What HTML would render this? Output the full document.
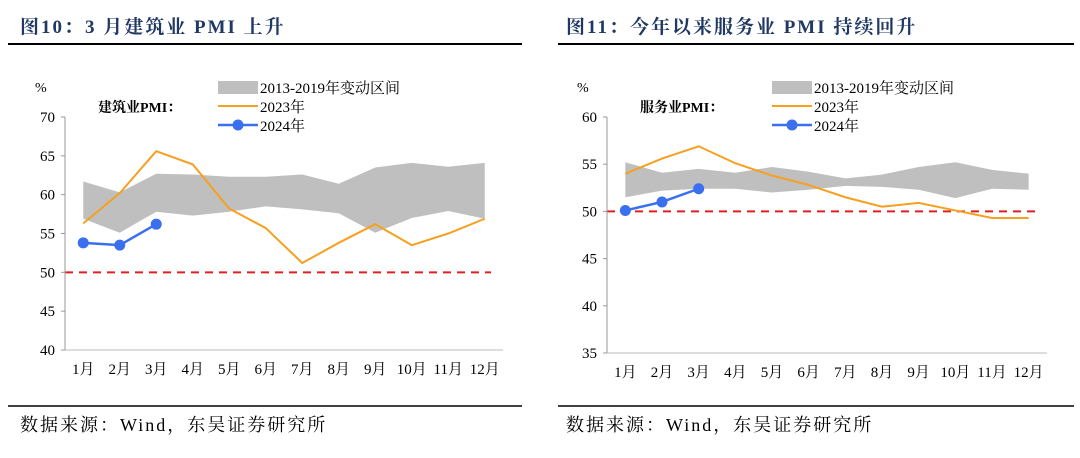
<!DOCTYPE html>
<html><head><meta charset="utf-8">
<style>
body{margin:0;background:#fff;width:1080px;height:458px;overflow:hidden;font-family:"Liberation Serif","Noto Serif CJK SC",serif;}
svg{position:absolute;left:0;top:0}
</style></head>
<body>
<svg id="c" width="1080" height="458">
<text x="20" y="33" font-size="19" font-weight="bold" fill="#203864" letter-spacing="2">图10：3 月建筑业 PMI 上升</text>
<line x1="8" y1="44" x2="522" y2="44" stroke="#000" stroke-width="2"/>
<text x="566" y="33" font-size="19" font-weight="bold" fill="#203864" letter-spacing="2">图11：今年以来服务业 PMI 持续回升</text>
<line x1="558" y1="44" x2="1074" y2="44" stroke="#000" stroke-width="2"/>
<line x1="8" y1="406" x2="522" y2="406" stroke="#000" stroke-width="1.5"/>
<line x1="558" y1="406" x2="1074" y2="406" stroke="#000" stroke-width="1.5"/>
<text x="20" y="431" font-size="18" fill="#000" letter-spacing="2">数据来源：Wind，东吴证券研究所</text>
<text x="566" y="431" font-size="18" fill="#000" letter-spacing="2">数据来源：Wind，东吴证券研究所</text>
</svg>
<script>
const months=["1月","2月","3月","4月","5月","6月","7月","8月","9月","10月","11月","12月"];
const conTicks=[40,45,50,55,60,65,70];
const conBandHigh=[61.7,60.3,62.7,62.6,62.3,62.3,62.6,61.4,63.5,64.1,63.6,64.1];
const conBandLow=[56.9,55.1,57.8,57.3,57.8,58.5,58.1,57.6,55.1,57.0,57.9,56.9];
const con2023=[56.3,60.2,65.6,63.9,58.2,55.7,51.2,53.8,56.2,53.5,55.0,56.9];
const con2024=[53.8,53.5,56.2];
const srvTicks=[35,40,45,50,55,60];
const srvBandHigh=[55.2,54.1,54.5,54.1,54.7,54.2,53.5,53.9,54.7,55.2,54.4,54.0];
const srvBandLow=[51.5,52.2,52.4,52.4,52.0,52.3,52.7,52.6,52.3,51.4,52.4,52.3];
const srv2023=[54.0,55.6,56.9,55.1,53.8,52.8,51.5,50.5,50.9,50.1,49.3,49.3];
const srv2024=[50.1,51.0,52.4];
const NS="http://www.w3.org/2000/svg";
const svg=document.getElementById('c');
function mk(tag,attrs,parent,txt){const e=document.createElementNS(NS,tag);for(const k in attrs)e.setAttribute(k,attrs[k]);if(txt!==undefined)e.textContent=txt;(parent||svg).appendChild(e);return e;}
function chart(o){
  const g=mk('g',{});
  
  
  const tmin=o.ticks[0],tmax=o.ticks[o.ticks.length-1];
  const y=v=>o.y1+(tmax-v)/(tmax-tmin)*(o.y0-o.y1);
  const step=(o.x1-o.x0)/12;
  const x=i=>o.x0+step*(i+0.5);
  let pts=o.hi.map((v,i)=>x(i)+','+y(v)).concat(o.lo.map((v,i)=>x(i)+','+y(v)).reverse());
  const band=mk('polygon',{points:pts.join(' '),fill:'#bfbfbf'},g);
  
  
  const rl=mk('line',{x1:o.x0,x2:o.x1-12,y1:y(50),y2:y(50),stroke:'#e02020','stroke-width':2,'stroke-dasharray':'8,6'},g);
  
  
  const ax=mk('line',{x1:o.x0,x2:o.x0,y1:o.y1,y2:o.y0,stroke:'#999','stroke-width':1},g);
  
  
  const bx=mk('line',{x1:o.x0,x2:o.x1,y1:o.y0,y2:o.y0,stroke:'#bbb','stroke-width':1},g);
  
  
  o.ticks.forEach(t=>{
    const tk=mk('line',{x1:o.x0-4,x2:o.x0,y1:y(t),y2:y(t),stroke:'#999'},g);
    
    
    const tl=mk('text',{x:o.x0-10,y:y(t)+5,'font-size':15,'text-anchor':'end'},g,t);
    
    
  });
  months.forEach((m,i)=>{
    const tl=mk('text',{x:x(i),y:o.y0+24,'font-size':15,'text-anchor':'middle'},g,m);
    
    
  });
  const un=mk('text',{x:o.x0-30,y:o.y1-25,'font-size':14},g,'%');
  
  
  const l23=mk('polyline',{points:o.s23.map((v,i)=>x(i)+','+y(v)).join(' '),fill:'none',stroke:'#f5a020','stroke-width':2},g);
  
  
  const l24=mk('polyline',{points:o.s24.map((v,i)=>x(i)+','+y(v)).join(' '),fill:'none',stroke:'#3a6ff0','stroke-width':2.5},g);
  
  
  o.s24.forEach((v,i)=>{
    const c=mk('circle',{cx:x(i),cy:y(v),r:5.5,fill:'#3a6ff0'},g);
    
    
  });
  const lx=o.lx,ly=o.ly;
  const lg=mk('g',{},g);
  
  
  mk('rect',{x:lx,y:ly-6,width:40,height:13,fill:'#bfbfbf'},lg);
  mk('text',{x:lx+42,y:ly+6,'font-size':15},lg,'2013-2019年变动区间');
  mk('line',{x1:lx,x2:lx+40,y1:ly+19,y2:ly+19,stroke:'#f5a020','stroke-width':2},lg);
  mk('text',{x:lx+42,y:ly+25,'font-size':15},lg,'2023年');
  mk('line',{x1:lx,x2:lx+40,y1:ly+38,y2:ly+38,stroke:'#3a6ff0','stroke-width':2.5},lg);
  mk('circle',{cx:lx+20,cy:ly+38,r:5.5,fill:'#3a6ff0'},lg);
  mk('text',{x:lx+42,y:ly+44,'font-size':15},lg,'2024年');
  const lab=mk('text',{x:o.labx,y:ly+25,'font-size':14,'font-weight':'bold'},g,o.label);
  
  
}
chart({name:'construction-pmi-chart',x0:65,x1:503,y0:350,y1:117,ticks:conTicks,hi:conBandHigh,lo:conBandLow,s23:con2023,s24:con2024,lx:218,ly:87,labx:98,label:'建筑业PMI：'});
chart({name:'services-pmi-chart',x0:607,x1:1047,y0:353,y1:117,ticks:srvTicks,hi:srvBandHigh,lo:srvBandLow,s23:srv2023,s24:srv2024,lx:772,ly:87,labx:640,label:'服务业PMI：'});
</script>
</body></html>
